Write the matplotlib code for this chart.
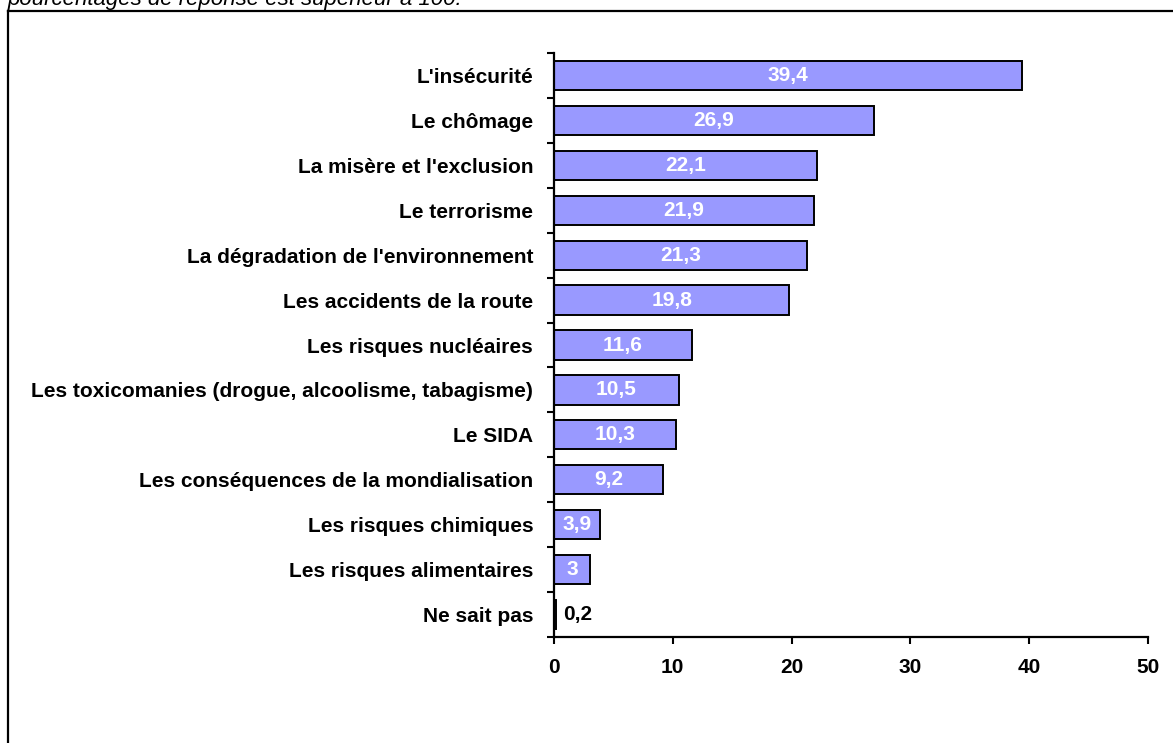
import numpy as np
import matplotlib.pyplot as plt
from matplotlib.lines import Line2D

plt.rcParams['font.family'] = ['Liberation Sans', 'DejaVu Sans']

# data
categories = ["L'insécurité", "Le chômage", "La misère et l'exclusion",
              "Le terrorisme", "La dégradation de l'environnement",
              "Les accidents de la route", "Les risques nucléaires",
              "Les toxicomanies (drogue, alcoolisme, tabagisme)", "Le SIDA",
              "Les conséquences de la mondialisation", "Les risques chimiques",
              "Les risques alimentaires", "Ne sait pas"]
values = [39.4, 26.9, 22.1, 21.9, 21.3, 19.8, 11.6, 10.5, 10.3, 9.2, 3.9, 3, 0.2]
value_labels = ["39,4", "26,9", "22,1", "21,9", "21,3", "19,8", "11,6",
                "10,5", "10,3", "9,2", "3,9", "3", "0,2"]
xticks = [0, 10, 20, 30, 40, 50]

W, H = 1173, 743
fig = plt.figure(figsize=(W / 100, H / 100), dpi=100)
ax = fig.add_axes([554 / W, 1 - 637 / H, 594 / W, 584 / H])

ypos = np.arange(len(categories))
ax.barh(ypos, values, height=0.65, color='#9999FF', edgecolor='black', linewidth=1.4)

for y, v, lab in zip(ypos, values, value_labels):
    if v < 1:
        ax.text(v + 0.6, y, lab, ha='left', va='center', fontsize=15,
                fontweight='bold', color='black')
    else:
        ax.text(v / 2, y, lab, ha='center', va='center', fontsize=15,
                fontweight='bold', color='white')

ax.set_xlim(0, 50)
ax.set_ylim(len(categories) - 0.5, -0.5)

ax.set_xticks(xticks)
ax.set_xticklabels([str(t) for t in xticks], fontsize=15, fontweight='bold')
ax.tick_params(axis='x', direction='out', length=5, width=1.5, pad=10)

# ticks between the bars, labels at bar centres
ax.set_yticks(np.arange(-0.5, len(categories), 1))
ax.set_yticklabels([])
ax.tick_params(axis='y', which='major', direction='out', length=5, width=1.5)
ax.set_yticks(ypos, minor=True)
ax.set_yticklabels(categories, minor=True, fontsize=15, fontweight='bold')
ax.tick_params(axis='y', which='minor', length=0, pad=15)

for s in ['top', 'right']:
    ax.spines[s].set_visible(False)
for s in ['left', 'bottom']:
    ax.spines[s].set_linewidth(1.6)

# outer frame (partly cut off) and the clipped note above it
fig.add_artist(Line2D([8 / W, 8 / W], [0, 1 - 11 / H], color='black', lw=1.6))
fig.add_artist(Line2D([8 / W, 1], [1 - 11 / H, 1 - 11 / H], color='black', lw=1.6))
fig.text(8 / W, 1 - 5 / H, "pourcentages de réponse est supérieur à 100.",
         fontsize=16, style='italic', ha='left', va='baseline')

fig.savefig('out.png', dpi=100)
